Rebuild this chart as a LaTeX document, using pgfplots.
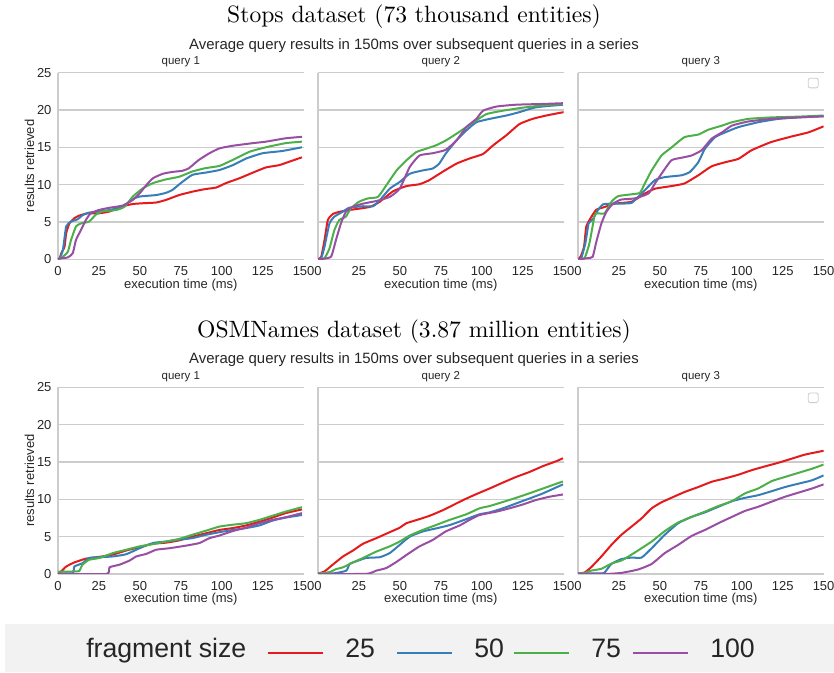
\documentclass[border=0pt]{standalone}
\usepackage{fontspec}
\setsansfont{Liberation Sans}
\renewcommand{\familydefault}{\sfdefault}
\newfontfamily\cmten{lmroman10-regular.otf}
\usepackage{pgfplots}
\pgfplotsset{compat=1.18}
\definecolor{gridc}{HTML}{CCCCCC}
\definecolor{tickc}{HTML}{262626}
\definecolor{legbg}{HTML}{F2F2F2}
\definecolor{c25}{HTML}{E41A1C}
\definecolor{c50}{HTML}{377EB8}
\definecolor{c75}{HTML}{4DAF4A}
\definecolor{c100}{HTML}{984EA3}
\pgfplotsset{
 panel/.style={
  scale only axis, width=184.2pt, height=140pt, anchor=south west,
  xmin=0, xmax=150, ymin=0, ymax=25,
  xtick={0,25,...,150}, ytick={0,5,...,25},
  ymajorgrids, major grid style={draw=gridc, line width=0.9pt},
  axis y line*=left, axis x line*=bottom,
  y axis line style={draw=gridc, line width=0.9pt},
  x axis line style={draw=none},
  tick style={draw=none},
  /pgf/number format/assume math mode=true,
  tick label style={font=\fontsize{9.75}{11}\selectfont, text=tickc},
  xticklabel style={inner sep=0pt, anchor=north, yshift=-5.5pt},
  yticklabel style={inner sep=0pt, anchor=east, xshift=-4.7pt},
  xlabel={execution time (ms)},
  every axis x label/.style={at={(axis description cs:0.5,0)}, anchor=base, yshift=-21.75pt, inner sep=0pt, font=\fontsize{9.75}{11}\selectfont, text=tickc},
  every axis title/.style={at={(axis description cs:0.5,1)}, anchor=base, yshift=5.8pt, inner sep=0pt, font=\fontsize{8.6}{10}\selectfont, text=tickc},
  every axis y label/.style={at={(axis description cs:-0.116,0.5)}, rotate=90, anchor=center, inner sep=0pt, font=\fontsize{9.75}{11}\selectfont, text=tickc},
  every axis plot/.append style={line width=1.5pt, smooth, tension=0.3},
 },
 noy/.style={yticklabels={}},
}
\newcommand{\emptylegend}{\draw[gridc, line width=0.6pt, rounded corners=1.5pt, fill=white] (axis description cs:0.9375,0.918) rectangle (axis description cs:0.978,0.97);}
\begin{document}
\begin{tikzpicture}
\useasboundingbox (0pt,0pt) rectangle (625.5pt,504.75pt);
\fill[legbg] (3.75pt,0.75pt) rectangle (625.5pt,36.75pt);
\node[font=\cmten\fontsize{17.7}{20}\selectfont, anchor=base, inner sep=0pt] at (310.5pt,487.5pt) {Stops dataset (73 thousand entities)};
\node[font=\fontsize{11.2}{13}\selectfont, anchor=base, inner sep=0pt, text=tickc] at (310.5pt,467.6pt) {Average query results in 150ms over subsequent queries in a series};
\node[font=\cmten\fontsize{17.7}{20}\selectfont, anchor=base, inner sep=0pt] at (310.5pt,251.8pt) {OSMNames dataset (3.87 million entities)};
\node[font=\fontsize{11.2}{13}\selectfont, anchor=base, inner sep=0pt, text=tickc] at (310.5pt,231.9pt) {Average query results in 150ms over subsequent queries in a series};

% ---------- top row ----------
\begin{axis}[panel, at={(43.5pt,310.3pt)}, title={query 1}, ylabel={results retrieved}]
\addplot[c25] coordinates {(0,0) (1,0.1) (2,0.8) (4,1.7) (5,3.5) (7,4.8) (10,5.5) (13,5.85) (18,6.15) (25,6.15) (31.5,6.4) (38.6,7.05) (45.7,7.4) (51.8,7.5) (60,7.6) (66,7.95) (74,8.6) (82,9.05) (90,9.4) (96.5,9.6) (102.6,10.2) (110.8,10.85) (119,11.6) (127,12.3) (135,12.6) (143,13.2) (149,13.65)};
\addplot[c50] coordinates {(0,0) (1,0.1) (3,1.25) (5,4.4) (8,5.05) (12,5.35) (15,5.9) (19,6.25) (25,6.4) (31.5,6.6) (39.6,7.05) (45.7,8.05) (49.8,8.4) (60,8.6) (66,8.9) (70,9.3) (75,10.2) (82,11.3) (90,11.6) (98.6,11.95) (106.7,12.6) (115,13.5) (125,14.2) (137,14.5) (149,15.0)};
\addplot[c75] coordinates {(0,0) (3,0.35) (6,1.0) (8,2.6) (11,4.4) (14,4.8) (19,5.05) (23,5.95) (27,6.4) (35.6,6.6) (40.7,7.05) (45.7,8.4) (51.8,9.5) (58,10.2) (66,10.7) (74,11.05) (82,11.75) (90,12.2) (98.6,12.5) (106.7,13.3) (117,14.4) (127,15.0) (139,15.55) (149,15.75)};
\addplot[c100] coordinates {(0,0) (1,0.1) (6,0.25) (9,0.8) (11,2.6) (14,3.9) (17,5.25) (20,6.15) (25,6.6) (31.5,6.9) (39.6,7.2) (45.7,7.95) (50,8.85) (54,9.95) (58,10.85) (64,11.45) (70,11.7) (76,11.85) (80,12.2) (86,13.3) (92.5,14.2) (98.6,14.85) (106.7,15.2) (119,15.55) (127,15.75) (139,16.2) (149,16.4)};
\end{axis}

\begin{axis}[panel, noy, at={(238.5pt,310.3pt)}, title={query 2}]
\addplot[c25] coordinates {(0,0) (2,0.35) (4,2.6) (6,5.25) (9,6.05) (13,6.35) (19.3,6.6) (31.5,7.0) (37.7,7.7) (45.8,9.1) (54,9.8) (62,10.05) (68,10.6) (76,11.7) (84.5,12.8) (92.6,13.5) (100.8,14.1) (106.9,15.25) (115,16.6) (123,18.1) (131,18.8) (139.4,19.25) (147.5,19.6) (150,19.7)};
\addplot[c50] coordinates {(0,0) (2,0.15) (4,1.7) (7,4.8) (10,5.7) (15,6.35) (19,6.9) (27.5,7.1) (33.6,7.1) (37.7,7.9) (43.8,9.45) (49.9,10.35) (56,11.45) (64,11.9) (70,12.15) (74,12.8) (78,14.15) (84.5,15.9) (90.6,17.25) (96.7,18.35) (104.8,18.8) (115,19.25) (123,19.7) (133,20.35) (149.6,20.7)};
\addplot[c75] coordinates {(0,0) (4,0.15) (7,1.45) (10,3.9) (13,5.25) (17,5.7) (20,6.8) (25,7.7) (30.5,8.15) (36.6,8.35) (41.7,9.9) (48,11.9) (54,13.25) (60,14.35) (66,14.8) (72,15.25) (78,15.9) (84.5,16.8) (90.6,17.7) (96.7,18.6) (103,19.45) (113,19.9) (125,20.3) (137,20.6) (149.6,20.8)};
\addplot[c100] coordinates {(0,0) (3,0.05) (8,0.35) (11,2.6) (14,4.8) (17,6.35) (21,7.0) (27.5,7.45) (35.6,7.8) (43.8,8.35) (49.9,9.45) (56,12.35) (62,13.9) (70,14.2) (78,14.65) (84.5,15.9) (90.6,17.7) (96.7,18.8) (100.8,19.9) (109,20.45) (121,20.7) (137.5,20.8) (149.6,20.9)};
\end{axis}

\begin{axis}[panel, noy, at={(433.5pt,310.3pt)}, title={query 3}]
\addplot[c25] coordinates {(0,0) (1.6,0.35) (3.7,1.7) (5,4.35) (7,5.25) (11,6.6) (16.3,7.0) (22.4,7.45) (32.7,7.7) (40.8,8.8) (47,9.45) (57,9.8) (65,10.15) (73.5,11.25) (81.6,12.45) (90,13.0) (98,13.45) (106,14.6) (118,15.7) (130.6,16.45) (140.8,17.0) (150,17.8)};
\addplot[c50] coordinates {(0,0) (2,0.15) (4.5,2.15) (6.5,4.8) (9,5.35) (12.2,6.6) (15.3,7.35) (20.4,7.45) (26.5,7.45) (32.7,7.55) (36.7,8.35) (40.8,9.25) (47,10.6) (53,11.0) (63.3,11.25) (68.4,11.7) (73.5,13.0) (77.5,14.8) (83.7,16.35) (90,17.0) (98,17.7) (110,18.35) (122.4,18.8) (134.7,19.0) (150,19.15)};
\addplot[c75] coordinates {(0,0) (4,0.15) (7,2.15) (10.2,5.9) (12.2,6.15) (16.3,6.15) (20.4,7.7) (24.5,8.45) (32.7,8.7) (37.8,8.9) (40.8,10.15) (45,11.9) (51,13.9) (57,14.95) (65,16.35) (73.5,16.7) (79.6,17.35) (88,17.9) (94,18.35) (104,18.8) (118.4,19.0) (134.7,19.1) (150,19.25)};
\addplot[c100] coordinates {(0,0) (6,0.15) (9,0.35) (11.2,2.35) (14.3,4.8) (17.3,6.35) (21.4,7.45) (26.5,8.0) (34.7,8.15) (43,8.8) (47,10.15) (51,11.45) (57,13.25) (63.3,13.6) (69.4,13.9) (75.5,14.6) (81.6,16.15) (88,17.0) (94,17.9) (104,18.45) (118,18.8) (134.7,19.0) (150,19.15)};
\emptylegend
\end{axis}

% ---------- bottom row ----------
\begin{axis}[panel, at={(43.5pt,74.25pt)}, title={query 1}, ylabel={results retrieved}]
\addplot[c25] coordinates {(0,0.05) (2,0.35) (5,1.0) (10,1.55) (17,2.05) (25.4,2.3) (33.5,2.6) (41.7,3.15) (49.8,3.6) (58,4.05) (66,4.2) (74,4.5) (82,5.0) (90.4,5.45) (98.6,5.9) (106.7,6.15) (114.8,6.5) (123,7.0) (131,7.55) (139,8.15) (149,8.65)};
\addplot[c50] coordinates {(0,0.1) (9,0.1) (10,1.0) (15,1.45) (19,2.15) (25.4,2.25) (33.5,2.35) (41.7,2.65) (49.8,3.45) (58,4.15) (66,4.35) (74,4.6) (82,4.8) (90.4,5.25) (98.6,5.6) (106.7,5.9) (114.8,6.15) (123,6.5) (131,7.15) (139,7.55) (149,7.9)};
\addplot[c75] coordinates {(0,0.3) (12,0.35) (13,0.4) (15,1.25) (19,1.9) (25.4,2.15) (33.5,2.8) (41.7,3.25) (49.8,3.7) (58,4.0) (66,4.35) (74,4.7) (82,5.25) (90.4,5.8) (98.6,6.35) (106.7,6.6) (114.8,6.8) (123,7.25) (131,7.8) (139,8.35) (149,8.95)};
\addplot[c100] coordinates {(0,0) (29.5,0) (31.5,0.9) (37.6,1.25) (43.7,1.8) (47.8,2.35) (54,2.7) (60,3.25) (68,3.45) (78.2,3.8) (86.4,4.15) (92.5,4.8) (98.6,5.15) (106.7,5.75) (114.8,6.2) (123,6.8) (131,7.25) (139,7.6) (149,8.15)};
\end{axis}

\begin{axis}[panel, noy, at={(238.5pt,74.25pt)}, title={query 2}]
\addplot[c25] coordinates {(0,0.05) (4,0.35) (9,1.25) (15.3,2.35) (21.4,3.15) (27.5,4.05) (35.6,4.8) (43.8,5.6) (49.9,6.2) (54,6.8) (62,7.35) (68.2,7.8) (76.3,8.55) (84.5,9.45) (90.6,10.1) (96.7,10.7) (104.8,11.45) (113,12.25) (121,13.0) (129,13.65) (137.4,14.45) (145.5,15.1) (149.6,15.5)};
\addplot[c50] coordinates {(0,0.05) (10,0.1) (17.3,0.45) (19.3,1.35) (23.4,1.7) (29.5,2.15) (37.7,2.25) (43.8,2.8) (49.9,3.9) (56,5.0) (64,5.7) (72,6.1) (80.4,6.55) (90.6,7.35) (98.7,8.0) (104.8,8.25) (113,8.8) (121,9.45) (129,10.1) (137.4,10.8) (149.6,12.0)};
\addplot[c75] coordinates {(0,0.05) (7,0.25) (11,0.65) (15.3,0.9) (21.4,1.55) (27.5,2.15) (35.6,3.0) (43.8,3.7) (49.9,4.35) (56,5.15) (64,5.9) (72,6.55) (80.4,7.25) (90.6,8.0) (98.7,8.8) (104.8,9.1) (113,9.65) (121,10.2) (129,10.8) (137.4,11.45) (149.6,12.4)};
\addplot[c100] coordinates {(0,0) (29.5,0.02) (35.6,0.45) (41.7,0.8) (47.8,1.6) (54,2.55) (62,3.7) (70,4.55) (78,5.7) (86.5,6.5) (92.6,7.25) (98.7,7.9) (109,8.35) (117,8.8) (125,9.3) (133,9.9) (141.4,10.35) (149.6,10.65)};
\end{axis}

\begin{axis}[panel, noy, at={(433.5pt,74.25pt)}, title={query 3}]
\addplot[c25] coordinates {(0,0.05) (4,0.2) (8,0.9) (14.3,2.35) (20.4,3.9) (26.5,5.25) (32.7,6.35) (38.8,7.45) (45,8.8) (51,9.6) (57,10.2) (65.3,11.0) (73.5,11.65) (81.6,12.35) (89.8,12.8) (98,13.3) (106,13.9) (114,14.4) (122.4,14.9) (130.6,15.45) (138.8,16.0) (150,16.5)};
\addplot[c50] coordinates {(0,0.05) (15,0.1) (16.3,0.2) (20.4,1.35) (26.5,2.0) (32.7,2.2) (38.8,2.2) (45,3.45) (53,5.25) (61.2,6.8) (69.4,7.65) (77.5,8.25) (85.7,9.0) (94,9.75) (102,10.2) (110,10.55) (118.4,11.1) (126.5,11.65) (134.7,12.1) (142.9,12.55) (150,13.2)};
\addplot[c75] coordinates {(0,0.05) (4,0.15) (8,0.45) (14.3,0.7) (20.4,1.4) (26.5,1.8) (32.7,2.6) (38.8,3.45) (45,4.35) (53,5.75) (61.2,6.9) (69.4,7.65) (77.5,8.35) (85.7,9.1) (94,9.75) (102,10.8) (110,11.45) (118.4,12.45) (126.5,13.0) (134.7,13.55) (142.9,14.1) (150,14.65)};
\addplot[c100] coordinates {(0,0) (18.4,0.02) (26.5,0.15) (36.7,0.6) (45,1.35) (53,2.8) (61.2,3.9) (69.4,5.1) (77.5,5.9) (85.7,6.8) (94,7.65) (102,8.45) (110,9.0) (118.4,9.7) (126.5,10.35) (134.7,10.9) (142.9,11.45) (150,12.0)};
\emptylegend
\end{axis}

% ---------- legend ----------
\begin{axis}[at={(0pt,0pt)}, anchor=south west, scale only axis, width=625.5pt, height=37.5pt,
  hide axis, xmin=0, xmax=1, ymin=0, ymax=1,
  legend columns=5,
  legend style={at={(0.1031,0.479)}, anchor=west, draw=none, fill=none, inner sep=0pt,
    cells={anchor=base west},
    nodes={inner sep=0pt, font=\fontsize{20}{24}\selectfont, text=tickc},
    /tikz/column sep=0pt},
  legend image code/.code={\draw[#1, line width=1.5pt] (0pt,3.2pt) -- (41.25pt,3.2pt);}]
\addlegendimage{empty legend}
\addlegendentry{\makebox[135.75pt][l]{fragment size}}
\addlegendimage{c25}
\addlegendentry{\hspace*{15.75pt}\makebox[38.25pt][l]{25}}
\addlegendimage{c50}
\addlegendentry{\hspace*{15.75pt}\makebox[29.25pt][l]{50}}
\addlegendimage{c75}
\addlegendentry{\hspace*{15.75pt}\makebox[30.75pt][l]{75}}
\addlegendimage{c100}
\addlegendentry{\hspace*{15.75pt}100}
\end{axis}
\end{tikzpicture}
\end{document}
